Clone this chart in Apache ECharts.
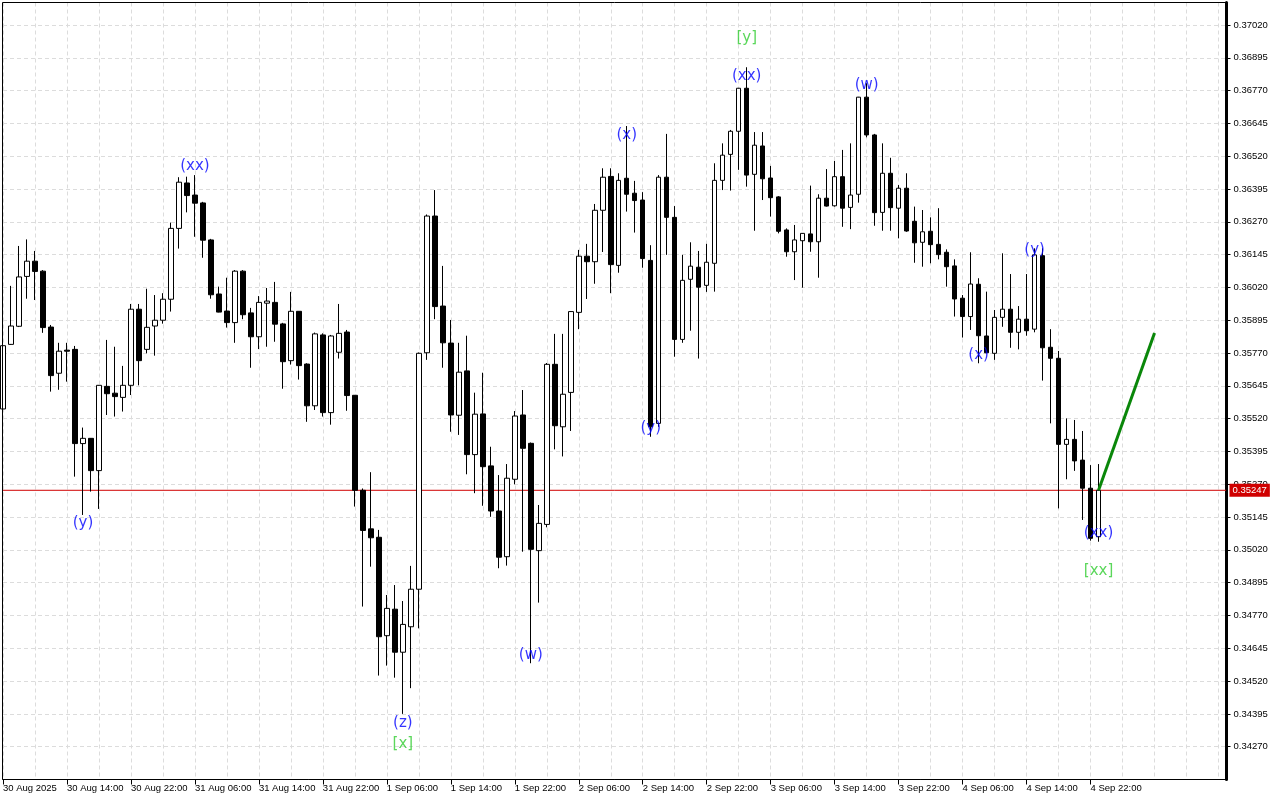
<!DOCTYPE html>
<html><head><meta charset="utf-8">
<script src="https://cdn.jsdelivr.net/npm/echarts@6/dist/echarts.min.js"></script>
<style>html,body{margin:0;padding:0;background:#fff}#c{width:1280px;height:800px}</style>
</head><body><div id="c"></div>
<script>
// Hourly candles, index 0 = 30 Aug 2025 06:00 ... index 137 = 4 Sep 23:00
const openP = [0.35557,0.35803,0.35872,0.36062,0.36120,0.36082,0.35869,0.35693,0.35781,0.35784,
0.35425,0.35445,0.35322,0.35643,0.35617,0.35601,0.35647,0.35937,0.35784,0.35873,
0.35895,0.35975,0.36245,0.36418,0.36372,0.36342,0.36201,0.35995,0.35930,0.35886,
0.36082,0.35923,0.35832,0.35960,0.35963,0.35881,0.35741,0.35929,0.35728,0.35569,
0.35839,0.35543,0.35773,0.35850,0.35609,0.35247,0.35100,0.35068,0.34693,0.34794,
0.34630,0.34727,0.34870,0.35771,0.36292,0.35949,0.35808,0.35533,0.35702,0.35383,
0.35538,0.35340,0.35168,0.34994,0.35289,0.35534,0.35426,0.35017,0.35117,0.35727,
0.35489,0.35620,0.35925,0.36139,0.36118,0.36314,0.36443,0.36104,0.36436,0.36379,
0.36353,0.36123,0.35502,0.36440,0.36287,0.35822,0.36051,0.36097,0.36028,0.36112,
0.36428,0.36527,0.36615,0.36779,0.36451,0.36559,0.36437,0.36365,0.36239,0.36156,
0.36198,0.36224,0.36194,0.36360,0.36331,0.36442,0.36325,0.36375,0.36745,0.36601,
0.36306,0.36455,0.36322,0.36398,0.36272,0.36192,0.36234,0.36184,0.36154,0.36102,
0.35979,0.35909,0.36032,0.35835,0.35769,0.35906,0.35937,0.35849,0.35899,0.35861,
0.36141,0.35792,0.35750,0.35422,0.35441,0.35362,0.35255,0.35070];
const closeP = [0.35798,0.35873,0.36060,0.36120,0.36081,0.35867,0.35684,0.35777,0.35777,0.35425,
0.35445,0.35322,0.35647,0.35615,0.35604,0.35647,0.35937,0.35741,0.35868,0.35895,
0.35975,0.36245,0.36421,0.36370,0.36341,0.36200,0.35992,0.35926,0.35886,0.36082,
0.35916,0.35832,0.35963,0.35968,0.35880,0.35737,0.35929,0.35722,0.35569,0.35843,
0.35543,0.35835,0.35845,0.35608,0.35247,0.35094,0.35066,0.34689,0.34797,0.34630,
0.34736,0.34870,0.35769,0.36292,0.35947,0.35809,0.35534,0.35697,0.35383,0.35537,
0.35337,0.35168,0.34992,0.35293,0.35530,0.35407,0.35022,0.35121,0.35727,0.35493,
0.35613,0.35928,0.36139,0.36118,0.36314,0.36440,0.36107,0.36428,0.36375,0.36351,
0.36130,0.35489,0.36440,0.36287,0.35822,0.36047,0.36101,0.36021,0.36116,0.36428,
0.36524,0.36615,0.36779,0.36448,0.36562,0.36434,0.36362,0.36234,0.36156,0.36201,
0.36226,0.36194,0.36360,0.36330,0.36442,0.36322,0.36372,0.36745,0.36601,0.36305,
0.36455,0.36324,0.36398,0.36235,0.36190,0.36232,0.36183,0.36145,0.36099,0.35976,
0.35909,0.36033,0.35836,0.35771,0.35906,0.35937,0.35849,0.35899,0.35855,0.36144,
0.35790,0.35750,0.35422,0.35441,0.35359,0.35255,0.35064,0.35247];
const lowP = [0.35553,0.35801,0.35869,0.35977,0.35972,0.35847,0.35623,0.35630,0.35661,0.35299,
0.35153,0.35242,0.35176,0.35534,0.35528,0.35547,0.35610,0.35647,0.35769,0.35760,
0.35882,0.35928,0.36168,0.36306,0.36213,0.36133,0.35977,0.35925,0.35867,0.35809,
0.35899,0.35714,0.35785,0.35794,0.35813,0.35634,0.35726,0.35669,0.35508,0.35553,
0.35528,0.35497,0.35749,0.35550,0.35185,0.34804,0.34956,0.34541,0.34579,0.34533,
0.34395,0.34493,0.34721,0.35744,0.35899,0.35714,0.35470,0.35458,0.35308,0.35236,
0.35188,0.35146,0.34950,0.34960,0.35270,0.35013,0.34588,0.34819,0.35106,0.35403,
0.35376,0.35473,0.35861,0.35976,0.36034,0.36155,0.35998,0.36076,0.36309,0.36229,
0.36095,0.35451,0.35489,0.36144,0.35756,0.35809,0.35855,0.35749,0.36003,0.36004,
0.36391,0.36389,0.36468,0.36404,0.36236,0.36353,0.36290,0.36226,0.36137,0.36048,
0.36019,0.36156,0.36057,0.36328,0.36328,0.36251,0.36242,0.36343,0.36592,0.36255,
0.36236,0.36236,0.36207,0.36232,0.36114,0.36099,0.36112,0.36127,0.36023,0.35909,
0.35829,0.35858,0.35731,0.35770,0.35744,0.35870,0.35790,0.35784,0.35836,0.35849,
0.35665,0.35502,0.35178,0.35289,0.35321,0.35134,0.35055,0.35051];
const highP = [0.35805,0.36026,0.36178,0.36203,0.36159,0.36086,0.35877,0.35809,0.35809,0.35797,
0.35486,0.35446,0.35648,0.35820,0.35794,0.35721,0.35957,0.35957,0.36015,0.35991,
0.35998,0.36267,0.36440,0.36442,0.36448,0.36346,0.36205,0.36023,0.36057,0.36086,
0.36086,0.35942,0.35987,0.36018,0.36041,0.35885,0.36003,0.35930,0.35731,0.35848,
0.35845,0.35839,0.35957,0.35858,0.35610,0.35254,0.35316,0.35096,0.34848,0.34886,
0.34825,0.34959,0.35772,0.36298,0.36391,0.36102,0.35896,0.35809,0.35836,0.35619,
0.35695,0.35413,0.35305,0.35347,0.35549,0.35629,0.35429,0.35191,0.35732,0.35843,
0.35843,0.35930,0.36163,0.36186,0.36338,0.36474,0.36474,0.36455,0.36635,0.36426,
0.36383,0.36181,0.36448,0.36605,0.36330,0.36144,0.36192,0.36159,0.36186,0.36493,
0.36569,0.36620,0.36780,0.36859,0.36612,0.36612,0.36483,0.36368,0.36245,0.36258,
0.36227,0.36408,0.36375,0.36471,0.36502,0.36544,0.36569,0.36746,0.36798,0.36605,
0.36569,0.36514,0.36410,0.36455,0.36328,0.36315,0.36287,0.36322,0.36165,0.36127,
0.35991,0.36154,0.36055,0.36004,0.35934,0.36150,0.36071,0.35949,0.36071,0.36169,
0.36169,0.35861,0.35778,0.35521,0.35515,0.35473,0.35343,0.35347];
const tickLabels = ["30 Aug 2025","30 Aug 14:00","30 Aug 22:00","31 Aug 06:00","31 Aug 14:00","31 Aug 22:00",
"1 Sep 06:00","1 Sep 14:00","1 Sep 22:00","2 Sep 06:00","2 Sep 14:00","2 Sep 22:00",
"3 Sep 06:00","3 Sep 14:00","3 Sep 22:00","4 Sep 06:00","4 Sep 14:00","4 Sep 22:00"];
const lastPrice = 0.35247;
const projection = [[137, 0.35247], [144, 0.35846]];
const waveLabels = [
  [10, 0.35122, '(y)', 'blue'], [24, 0.36483, '(xx)', 'blue'],
  [50, 0.34360, '(z)', 'blue'], [50, 0.34280, '[x]', 'green'],
  [66, 0.34619, '(w)', 'blue'], [78, 0.36601, '(x)', 'blue'],
  [81, 0.35484, '(y)', 'blue'], [93, 0.36970, '[y]', 'green'],
  [93, 0.36826, '(xx)', 'blue'], [108, 0.36791, '(w)', 'blue'],
  [122, 0.35763, '(x)', 'blue'], [129, 0.36163, '(y)', 'blue'],
  [137, 0.35084, '(xx)', 'blue'], [137, 0.34940, '[xx]', 'green']
];
const SLOTS = 154; // visible hourly slots incl. empty space on the right

const cats = Array.from({length: SLOTS}, (_, i) => String(i));
const candles = openP.map((o, i) => [o, closeP[i], lowP[i], highP[i]]);
const colorMap = {blue: '#0000ff', green: '#32cd32'};
const labelData = waveLabels.map(a => ({value: [a[0], a[1]], name: a[2], label: {color: colorMap[a[3]]}}));
const priceLine = [[0, lastPrice], [SLOTS - 1, lastPrice]];
const isTick = (idx) => idx % 8 === 0 && idx / 8 < tickLabels.length;

const G = {left: 2.5, top: 2.5, width: 1224, height: 777};
const chart = echarts.init(document.getElementById('c'), null, {renderer: 'canvas'});
chart.setOption({
  animation: false,
  backgroundColor: '#ffffff',
  textStyle: {fontFamily: 'Liberation Sans'},
  grid: {left: G.left, top: G.top, width: G.width, height: G.height, show: false},
  graphic: [{
    type: 'rect', z: 100, silent: true,
    shape: {x: G.left, y: G.top, width: G.width, height: G.height},
    style: {fill: null, stroke: '#000', lineWidth: 1}
  }],
  xAxis: {
    type: 'category', data: cats, boundaryGap: false,
    axisLine: {show: true, lineStyle: {color: '#000', width: 1}},
    axisTick: {show: true, interval: (idx) => isTick(idx), length: 5, lineStyle: {color: '#000'}},
    axisLabel: {interval: (idx) => isTick(idx), align: 'left', margin: 4, fontSize: 9.5, color: '#000',
      fontFamily: 'Liberation Sans',
      formatter: (v, idx) => isTick(idx) ? tickLabels[idx / 8] : ''},
    splitLine: {show: true, interval: 3, lineStyle: {color: '#dcdcdc', type: [4, 3], width: 1}}
  },
  yAxis: {
    type: 'value', position: 'right', min: 0.34145, max: 0.371057, interval: 0.00125,
    axisLine: {show: true, onZero: false, lineStyle: {color: '#000', width: 3}},
    axisTick: {show: true, length: 4, lineStyle: {color: '#000'}},
    axisLabel: {showMinLabel: false, showMaxLabel: false, margin: 7, fontSize: 9.5, color: '#000',
      fontFamily: 'Liberation Sans', formatter: v => v.toFixed(5)},
    splitLine: {show: true, lineStyle: {color: '#dcdcdc', type: [4, 3], width: 1}}
  },
  series: [
    {
      type: 'line', data: priceLine, symbol: 'none', z: 2, silent: true,
      lineStyle: {color: '#d00000', width: 1},
      endLabel: {show: true, distance: 3, formatter: () => lastPrice.toFixed(5),
        color: '#ffffff', backgroundColor: '#d00000', padding: [2, 3, 1, 3], fontSize: 9.5, fontFamily: 'Liberation Sans'}
    },
    {
      type: 'candlestick', data: candles, barWidth: 5, z: 3,
      itemStyle: {color: '#ffffff', color0: '#000000', borderColor: '#000000', borderColor0: '#000000', borderWidth: 1},
      emphasis: {disabled: true}
    },
    {
      type: 'line', data: projection, symbol: 'none', z: 4, silent: true,
      lineStyle: {color: '#0a870a', width: 3}
    },
    {
      type: 'scatter', data: labelData, symbolSize: 1, z: 5, silent: true,
      itemStyle: {color: 'rgba(0,0,0,0)'},
      label: {show: true, position: 'inside', formatter: '{b}', fontSize: 15, fontFamily: 'DejaVu Sans'}
    }
  ]
});
</script>
</body></html>
